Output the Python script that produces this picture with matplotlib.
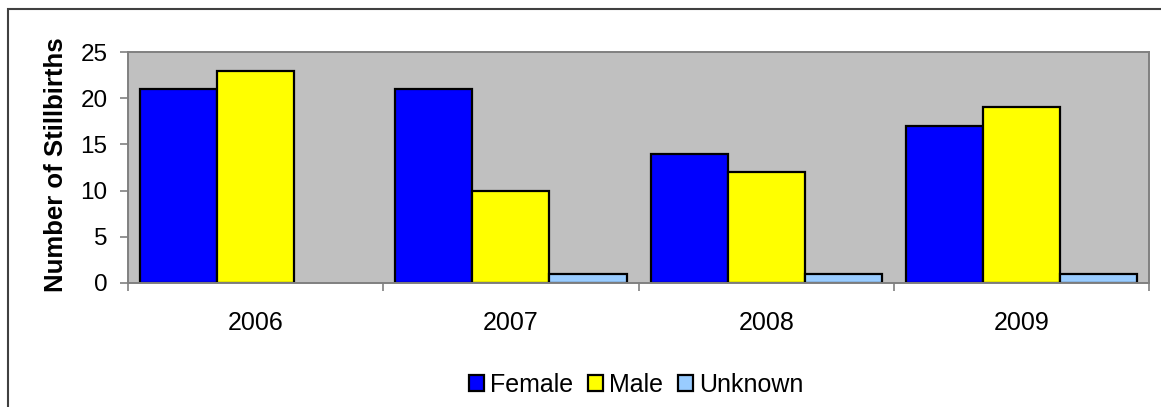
import numpy as np
import matplotlib.pyplot as plt
from matplotlib.patches import Rectangle, Patch

plt.rcParams['font.family'] = ['Liberation Sans', 'DejaVu Sans']

years = ['2006', '2007', '2008', '2009']
female = [21, 21, 14, 17]
male = [23, 10, 12, 19]
unknown = [0, 1, 1, 1]

series = ['Female', 'Male', 'Unknown']
colors = ['#0000FF', '#FFFF00', '#99CCFF']

fig = plt.figure(figsize=(11.61, 4.07), dpi=100)
ax = fig.add_axes([0.110, 0.305, 0.880, 0.567])
ax.set_facecolor('#C0C0C0')

x = np.arange(len(years))
w = 0.302
for i, (vals, c) in enumerate(zip([female, male, unknown], colors)):
    bars = ax.bar(x + (i - 1) * w, vals, w, color=c, edgecolor='black', linewidth=1.6)
    for b, v in zip(bars, vals):
        if v == 0:
            b.set_visible(False)  # no outline for empty bars

ax.set_xlim(-0.5, len(years) - 0.5)
ax.set_ylim(0, 25)
ax.set_yticks(range(0, 26, 5))
ax.set_xticks(x)
ax.set_xticklabels(years)
ax.set_xticks(np.arange(-0.5, len(years)), minor=True)
ax.tick_params(axis='x', which='major', length=0, pad=20, labelsize=18)
ax.tick_params(axis='x', which='minor', length=5.5, width=1.2, color='#808080', direction='out')
ax.tick_params(axis='y', length=6, width=1.2, color='#808080', labelsize=17.5, pad=8.5)
for s in ax.spines.values():
    s.set_color('#808080')
    s.set_linewidth(1.4)

ax.set_ylabel('Number of Stillbirths', fontsize=18.5, fontweight='bold')
ax.yaxis.set_label_coords(-0.058, 0.51)

handles = [Patch(facecolor=c, edgecolor='black', linewidth=1.6, label=s)
           for s, c in zip(series, colors)]
fig.legend(handles=handles, loc='center', bbox_to_anchor=(0.548, 0.054), ncol=3,
           frameon=False, fontsize=18, handlelength=0.6, handleheight=0.6,
           handletextpad=0.25, columnspacing=0.6)

# outer chart border (cropped on the right and bottom)
fig.patches.append(Rectangle((8 / 1161, -0.1), 1.2, (407 - 9) / 407 + 0.1,
                             transform=fig.transFigure, fill=False,
                             edgecolor='#404040', linewidth=1.5))

fig.savefig('out.png', dpi=100)
